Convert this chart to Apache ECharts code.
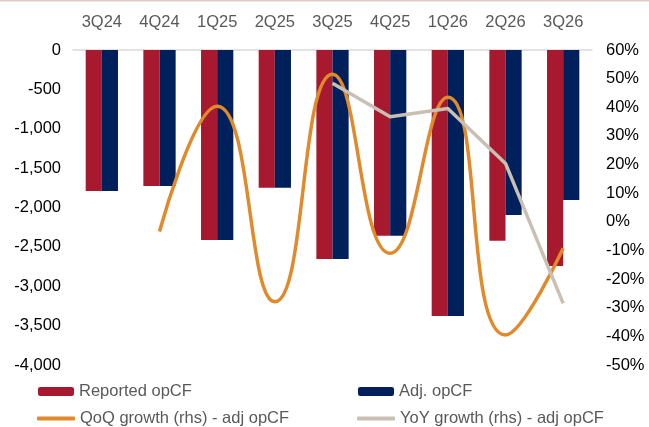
<!DOCTYPE html>
<html><head><meta charset="utf-8">
<script src="https://cdn.jsdelivr.net/npm/echarts@6/dist/echarts.min.js"></script>
<style>html,body{margin:0;padding:0;background:#fff}#c{width:649px;height:427px}</style>
</head><body><div id="c"></div>
<script>
const categories = ['3Q24','4Q24','1Q25','2Q25','3Q25','4Q25','1Q26','2Q26','3Q26'];
const reportedOpCF = [-1790,-1727,-2413,-1750,-2654,-2358,-3378,-2421,-2743];
const adjOpCF = [-1790,-1727,-2413,-1750,-2654,-2358,-3378,-2095,-1905];
const qoqGrowth = [null,-3.4,40.4,-27.9,51.5,-11,43.5,-39.5,-9.2];
const yoyGrowth = [null,null,null,null,48.4,36.7,39.6,20.4,-28.5];

const chart = echarts.init(document.getElementById('c'), null, {renderer:'canvas'});
const font = 'Liberation Sans, Arial, sans-serif';
const fs = 16.5;
const legText = {color:'#595959', fontSize:fs, fontFamily:font};
chart.setOption({
  animation:false,
  graphic:[{type:'rect',left:0,top:0,shape:{width:649,height:1.5},style:{fill:'#e3c9cc'},silent:true}],
  grid:{left:73,right:57,top:50,bottom:62},
  legend:[
    {data:['Reported opCF'],left:38,top:383,itemWidth:36,itemHeight:9,textStyle:legText,padding:0},
    {data:['Adj. opCF'],left:358,top:383,itemWidth:36,itemHeight:9,textStyle:legText,padding:0},
    {data:[{name:'QoQ growth (rhs) - adj opCF',icon:'roundRect'}],left:37,top:410,itemWidth:38,itemHeight:4,textStyle:legText,padding:0},
    {data:[{name:'YoY growth (rhs) - adj opCF',icon:'roundRect'}],left:357,top:410,itemWidth:38,itemHeight:4,textStyle:legText,padding:0}
  ],
  xAxis:{type:'category',data:categories,position:'top',
    axisLine:{lineStyle:{color:'#d9d9d9',width:1.5}},axisTick:{show:false},
    axisLabel:{color:'#595959',fontSize:fs,fontFamily:font,margin:19}},
  yAxis:[
    {type:'value',min:-4000,max:0,interval:500,splitLine:{show:false},
      axisLine:{show:false},axisTick:{show:false},
      axisLabel:{color:'#000',fontSize:fs,fontFamily:font,margin:12,
        formatter:v=>v.toLocaleString('en-US')}},
    {type:'value',min:-50,max:60,interval:10,splitLine:{show:false},
      axisLine:{show:false},axisTick:{show:false},
      axisLabel:{color:'#000',fontSize:fs,fontFamily:font,margin:14,formatter:v=>v+'%'}}
  ],
  series:[
    {name:'Reported opCF',type:'bar',data:reportedOpCF,barGap:'0%',barCategoryGap:'44%',
      itemStyle:{color:'#a6192e'}},
    {name:'Adj. opCF',type:'bar',data:adjOpCF,itemStyle:{color:'#00205b'}},
    {name:'QoQ growth (rhs) - adj opCF',type:'line',yAxisIndex:1,data:qoqGrowth,smooth:0.5,
      symbol:'none',lineStyle:{color:'#e08a2c',width:3.5},itemStyle:{color:'#e08a2c'}},
    {name:'YoY growth (rhs) - adj opCF',type:'line',yAxisIndex:1,data:yoyGrowth,
      symbol:'none',lineStyle:{color:'#c9bfb3',width:3.5},itemStyle:{color:'#c9bfb3'}}
  ]
});
</script></body></html>
